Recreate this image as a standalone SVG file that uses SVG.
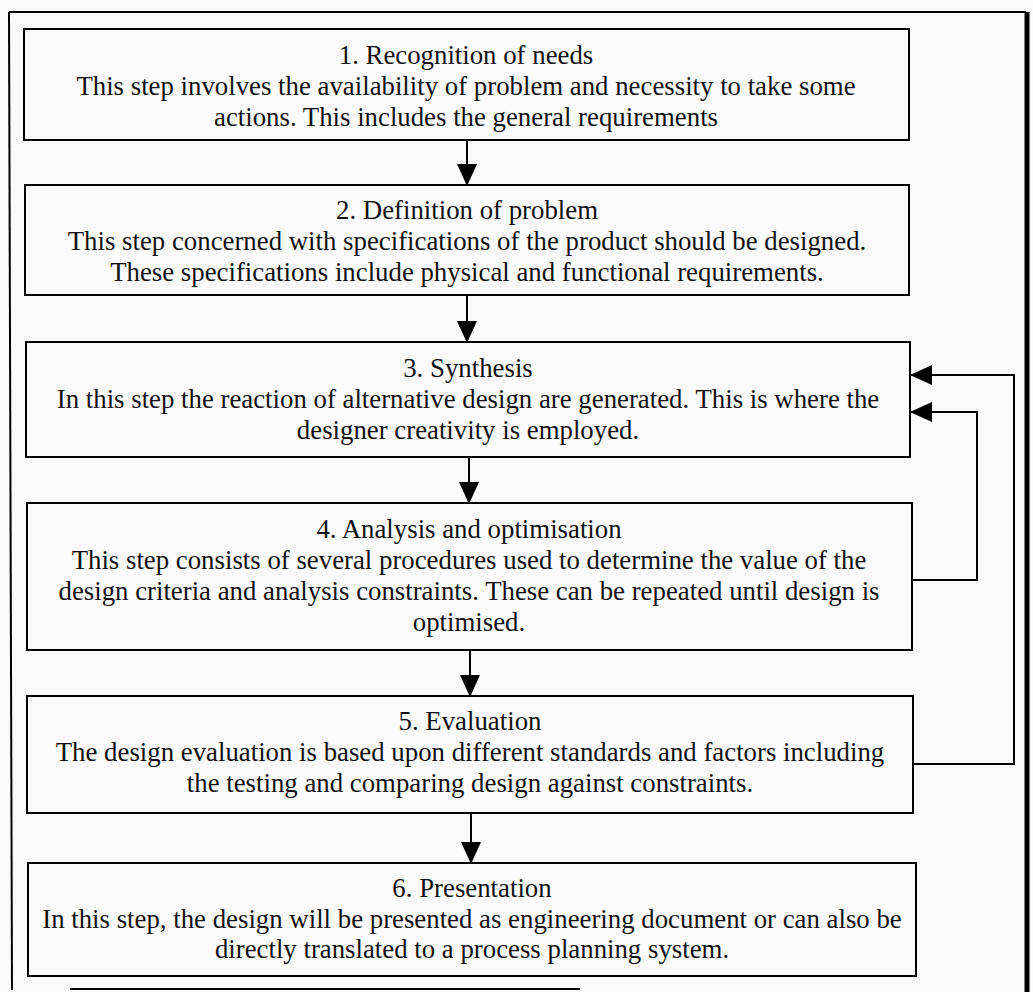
<svg xmlns="http://www.w3.org/2000/svg" width="1033" height="992" viewBox="0 0 1033 992">
  <style>
    .box { fill: none; stroke: #000; stroke-width: 2; }
    .t { font-family: "Liberation Serif", "Times New Roman", serif; font-size: 26.8px; fill: #111; text-anchor: middle; }
    .link { fill: none; stroke: #000; stroke-width: 2; }
  </style>
  <defs>
    <marker id="head" markerUnits="userSpaceOnUse" markerWidth="22" markerHeight="20" refX="21" refY="10" orient="auto">
      <path d="M0,0 L22,10 L0,20 Z" fill="#000"/>
    </marker>
  </defs>
  <rect width="1033" height="992" fill="#fafafa"/>
  <!-- outer frame -->
  <g id="frame">
    <path d="M9,12 L1026,12" class="link"/>
    <path d="M9,12 L12,990" class="link"/>
    <path d="M1027,12 L1027,992" fill="none" stroke="#000" stroke-width="5"/>
    <path d="M70,989 L580,989" class="link"/>
  </g>

  <g id="step1">
    <rect class="box" x="24" y="29" width="885" height="111"/>
    <text class="t" x="466" y="64">1. Recognition of needs</text>
    <text class="t" x="466" y="95">This step involves the availability of problem and necessity to take some</text>
    <text class="t" x="466" y="126">actions. This includes the general requirements</text>
  </g>

  <g id="step2">
    <rect class="box" x="25" y="185" width="884" height="110"/>
    <text class="t" x="467" y="219">2. Definition of problem</text>
    <text class="t" x="467" y="250">This step concerned with specifications of the product should be designed.</text>
    <text class="t" x="467" y="281">These specifications include physical and functional requirements.</text>
  </g>

  <g id="step3">
    <rect class="box" x="26" y="342" width="884" height="115"/>
    <text class="t" x="468" y="377">3. Synthesis</text>
    <text class="t" x="468" y="408">In this step the reaction of alternative design are generated. This is where the</text>
    <text class="t" x="468" y="439">designer creativity is employed.</text>
  </g>

  <g id="step4">
    <rect class="box" x="27" y="503" width="885" height="147"/>
    <text class="t" x="469" y="538">4. Analysis and optimisation</text>
    <text class="t" x="469" y="569">This step consists of several procedures used to determine the value of the</text>
    <text class="t" x="469" y="600">design criteria and analysis constraints. These can be repeated until design is</text>
    <text class="t" x="469" y="631">optimised.</text>
  </g>

  <g id="step5">
    <rect class="box" x="27" y="696" width="886" height="117"/>
    <text class="t" x="470" y="730">5. Evaluation</text>
    <text class="t" x="470" y="761">The design evaluation is based upon different standards and factors including</text>
    <text class="t" x="470" y="792">the testing and comparing design against constraints.</text>
  </g>

  <g id="step6">
    <rect class="box" x="28" y="863" width="888" height="113"/>
    <text class="t" x="472" y="897">6. Presentation</text>
    <text class="t" x="472" y="928">In this step, the design will be presented as engineering document or can also be</text>
    <text class="t" x="472" y="958">directly translated to a process planning system.</text>
  </g>

  <g id="connectors">
    <path class="link" d="M467,140 L467,185" marker-end="url(#head)"/>
    <path class="link" d="M467,295 L467,342" marker-end="url(#head)"/>
    <path class="link" d="M469,457 L469,503" marker-end="url(#head)"/>
    <path class="link" d="M470,650 L470,696" marker-end="url(#head)"/>
    <path class="link" d="M471,813 L471,863" marker-end="url(#head)"/>
    <!-- feedback loops back to synthesis -->
    <path class="link" d="M913,764 L1014,764 L1014,375 L911,375" marker-end="url(#head)"/>
    <path class="link" d="M912,580 L977,580 L977,412 L911,412" marker-end="url(#head)"/>
  </g>
</svg>
